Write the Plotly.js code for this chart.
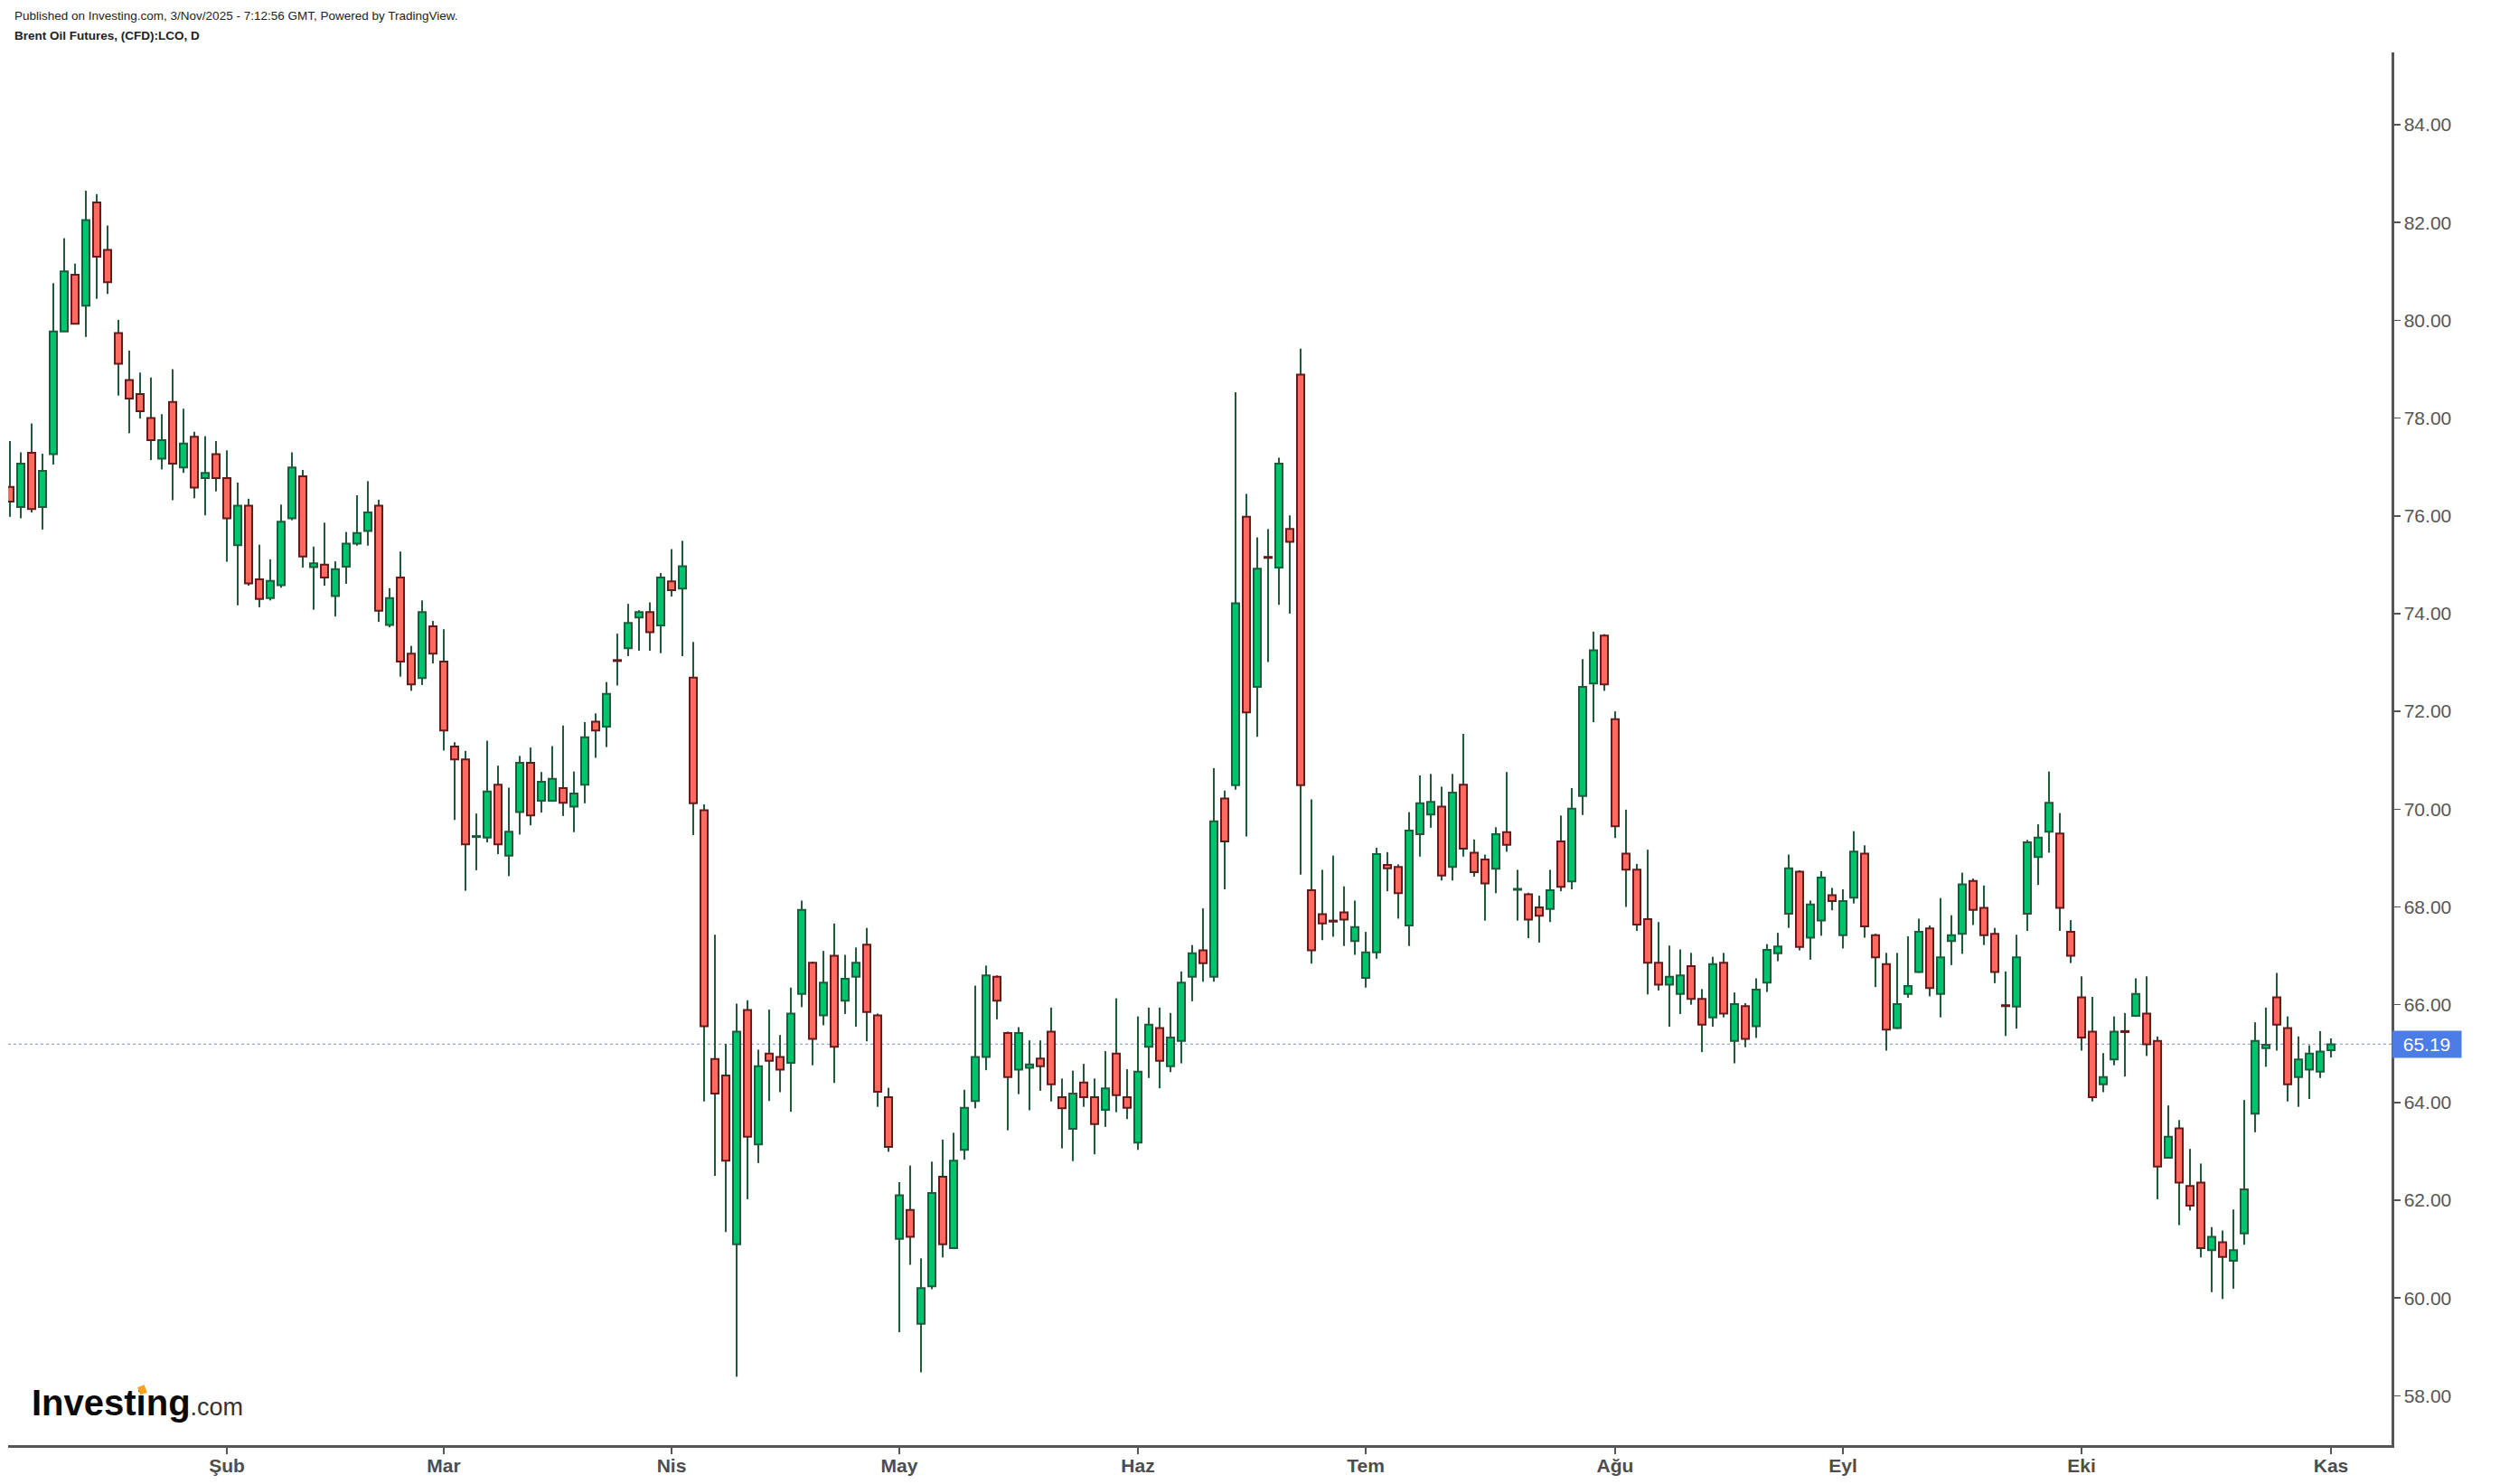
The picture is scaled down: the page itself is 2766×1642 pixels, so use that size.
<!DOCTYPE html>
<html><head><meta charset="utf-8">
<script src="https://cdn.plot.ly/plotly-3.0.1.min.js"></script>
<style>html,body{margin:0;padding:0;background:#fff}#chart{width:2766px;height:1642px}</style>
</head><body><div id="chart"></div>
<script>
// Trading days (Brent Oil Futures CFD, daily), Jan 6 2025 .. Nov 3 2025
const janDays=[6,7,8,9,10,13,14,15,16,17,20,21,22,23,24,27,28,29,30,31];
const febDays=[3,4,5,6,7,10,11,12,13,14,17,18,19,20,21,24,25,26,27,28];
const marDays=[3,4,5,6,7,10,11,12,13,14,17,18,19,20,21,24,25,26,27,28,31];
const aprDays=[1,2,3,4,7,8,9,10,11,14,15,16,17,21,22,23,24,25,28,29,30];
const mayDays=[1,2,5,6,7,8,9,12,13,14,15,16,19,20,21,22,23,26,27,28,29,30];
const junDays=[2,3,4,5,6,9,10,11,12,13,16,17,18,19,20,23,24,25,26,27,30];
const julDays=[1,2,3,4,7,8,9,10,11,14,15,16,17,18,21,22,23,24,25,28,29,30,31];
const augDays=[1,4,5,6,7,8,11,12,13,14,15,18,19,20,21,22,25,26,27,28,29];
const sepDays=[1,2,3,4,5,8,9,10,11,12,15,16,17,18,19,22,23,24,25,26,29,30];
const octDays=[1,2,3,6,7,8,9,10,13,14,15,16,17,20,21,22,23,24,27,28,29,30,31];
const novDays=[3];

const open=[76.59,76.18,77.29,76.18,77.26,79.77,80.93,80.30,82.41,81.44,
79.74,78.78,78.49,78.00,77.17,78.33,76.99,77.62,76.77,77.26,
76.77,75.40,76.21,74.70,74.32,74.58,75.95,76.81,74.95,75.00,
74.36,74.96,75.43,75.69,76.21,73.77,74.74,73.18,72.68,73.74,
73.02,71.28,71.02,69.43,69.42,70.50,69.05,69.94,70.95,70.17,
70.17,70.43,70.05,70.50,71.79,71.69,73.05,73.29,73.92,74.03,
73.76,74.66,74.51,72.69,69.98,64.89,64.55,61.10,65.89,63.14,
65.00,64.93,64.81,66.22,66.86,65.78,67.00,66.08,66.57,67.23,
65.78,64.11,61.21,61.80,59.47,60.24,62.48,61.02,63.03,64.03,
64.93,66.57,65.42,64.67,64.71,64.90,65.45,64.11,63.46,64.41,
64.11,63.85,65.00,64.11,63.18,65.14,65.52,64.74,65.26,66.57,
67.11,66.57,70.22,70.49,75.98,72.50,75.16,74.94,75.73,78.89,
68.34,67.85,67.72,67.89,67.30,66.55,67.07,68.86,68.82,67.62,
69.49,69.89,70.05,68.82,70.50,69.11,68.97,68.78,69.53,68.35,
68.26,67.99,67.96,69.34,68.52,70.27,72.57,73.55,71.84,69.09,
68.76,67.75,66.86,66.41,66.22,66.79,66.12,65.74,66.86,65.26,
65.97,65.56,66.45,67.05,67.86,68.72,67.37,67.72,68.24,67.42,
68.19,69.09,67.42,66.83,65.52,66.22,66.67,67.56,66.22,67.30,
67.45,68.53,67.98,67.45,65.99,65.96,67.86,69.02,69.54,69.50,
67.49,66.15,65.45,64.37,64.88,65.46,65.77,65.82,65.26,62.87,
63.47,62.29,62.36,60.98,61.14,60.76,61.32,63.77,65.11,66.15,
65.52,64.52,64.67,64.63,65.07];
const high=[77.53,77.30,77.89,77.27,80.76,81.68,81.16,82.65,82.58,81.94,
80.01,79.38,78.93,78.83,78.08,79.00,78.19,77.72,77.63,77.53,
77.34,76.68,76.35,75.41,75.11,76.23,77.30,76.94,75.37,75.86,
75.07,75.67,76.42,76.71,76.33,74.52,75.27,73.34,74.27,73.85,
73.68,71.37,71.19,69.91,71.40,70.89,70.44,71.09,71.26,70.76,
71.29,71.71,70.77,71.78,71.96,72.60,73.59,74.20,74.07,74.23,
74.83,75.32,75.49,73.42,70.10,67.43,65.20,66.02,66.09,65.08,
65.90,65.38,66.35,68.13,66.88,67.10,67.66,67.02,67.17,67.57,
65.82,64.30,62.37,62.71,60.81,62.79,63.24,63.38,64.26,66.39,
66.80,66.60,65.45,65.54,65.27,65.27,65.94,64.49,64.65,64.79,
64.49,65.05,66.13,64.68,65.76,65.94,65.94,65.83,66.68,67.22,
67.97,70.84,70.38,78.53,76.45,75.56,75.73,77.19,76.01,79.42,
70.20,68.76,69.05,68.42,68.13,67.49,69.21,69.12,68.87,69.94,
70.69,70.72,70.46,70.72,71.54,69.38,69.07,69.63,70.76,68.76,
68.29,68.23,68.76,69.87,70.43,73.07,73.63,73.58,72.00,69.99,
68.88,69.17,67.69,67.21,67.13,67.06,66.32,66.98,67.06,66.25,
66.03,66.54,67.24,67.47,69.07,68.75,68.13,68.73,68.39,68.36,
69.55,69.26,67.45,67.06,67.06,67.40,67.76,67.62,68.18,67.83,
68.70,68.58,68.44,67.57,66.68,67.43,69.37,69.69,70.77,69.92,
67.73,66.58,66.16,65.01,65.76,65.83,66.54,66.58,65.35,63.94,
63.64,63.05,62.75,61.45,61.38,61.81,64.05,65.64,65.94,66.65,
65.76,65.35,65.17,65.46,65.31];
const low=[75.98,75.95,76.07,75.72,77.05,79.77,79.93,79.66,80.44,80.54,
78.46,77.69,77.99,77.14,76.95,76.32,76.88,76.36,76.01,76.50,
75.06,74.17,74.57,74.13,74.27,74.53,75.91,74.94,74.08,74.57,
73.94,74.61,75.39,75.39,73.83,73.72,72.71,72.42,72.54,72.98,
71.20,69.78,68.33,68.75,69.32,69.08,68.63,69.48,69.67,69.93,
70.17,69.86,69.53,70.12,71.05,71.27,72.53,73.13,73.24,73.24,
73.19,74.35,73.13,69.47,64.02,62.50,61.35,58.39,62.02,62.76,
64.03,64.21,63.81,65.95,64.76,65.58,64.40,65.81,65.55,65.25,
63.91,62.99,59.30,60.68,58.48,60.18,60.83,61.00,62.83,63.88,
64.66,65.70,63.43,64.17,63.84,64.24,64.02,63.06,62.80,63.91,
62.94,63.50,63.80,63.66,63.03,64.50,64.29,64.62,64.80,66.07,
66.47,66.47,68.36,70.40,69.44,71.48,73.01,74.18,74.00,68.66,
66.84,67.32,67.39,67.20,67.02,66.35,66.94,68.32,67.76,67.20,
69.03,69.62,68.54,68.54,69.03,68.62,67.72,68.28,69.13,67.72,
67.36,67.27,67.69,68.32,68.36,69.88,71.78,72.42,69.41,68.00,
67.51,66.21,66.29,65.55,65.81,66.00,65.03,65.55,65.74,64.80,
65.13,65.32,66.26,66.89,67.57,67.11,66.92,67.41,67.93,67.15,
68.07,67.37,66.36,65.06,65.50,66.14,66.65,66.17,65.74,66.81,
67.04,67.63,67.22,66.44,65.36,65.51,67.51,68.45,69.11,67.51,
66.85,65.06,64.02,64.21,64.76,64.53,65.75,64.95,62.02,62.85,
61.49,61.79,60.83,60.12,59.98,60.19,61.09,63.39,64.73,65.06,
64.02,63.91,64.07,64.50,64.92];
const close=[76.29,77.07,76.14,76.92,79.77,81.00,79.93,82.05,81.30,80.78,
79.11,78.40,78.14,77.55,77.55,77.07,77.48,76.58,76.88,76.77,
75.95,76.21,74.62,74.30,74.67,75.88,76.99,75.17,75.03,74.74,
74.91,75.43,75.65,76.07,74.06,74.32,73.02,72.55,74.03,73.18,
71.61,71.02,69.28,69.45,70.36,69.28,69.54,70.95,69.87,70.56,
70.62,70.13,70.32,71.47,71.61,72.36,73.03,73.81,74.03,73.62,
74.74,74.48,74.97,70.12,65.56,64.18,62.81,65.45,63.30,64.74,
64.85,64.67,65.82,67.94,65.30,66.45,65.14,66.53,66.86,65.85,
64.22,63.09,62.10,61.25,60.20,62.15,61.10,62.81,63.89,64.93,
66.60,66.08,64.52,65.42,64.78,64.74,64.37,63.88,64.18,64.11,
63.56,64.29,64.15,63.89,64.63,65.59,64.85,65.33,66.45,67.05,
66.85,69.75,69.34,74.21,71.98,74.92,75.14,77.07,75.47,70.49,
67.11,67.66,67.70,67.74,67.59,67.07,69.08,68.79,68.28,69.56,
70.12,70.15,68.64,70.34,69.19,68.71,68.48,69.49,69.27,68.37,
67.74,67.82,68.34,68.41,70.01,72.50,73.25,72.55,69.65,68.76,
67.64,66.86,66.41,66.57,66.60,66.12,65.59,66.83,65.82,66.01,
65.30,66.31,67.12,67.19,68.79,67.18,68.05,68.60,68.12,68.12,
69.13,67.60,66.97,65.49,66.01,66.38,67.49,66.34,66.97,67.42,
68.46,67.94,67.42,66.67,65.97,66.97,69.32,69.42,70.13,67.98,
67.00,65.33,64.11,64.52,65.45,65.44,66.22,65.19,62.69,63.30,
62.36,61.89,61.02,61.25,60.84,60.98,62.22,65.26,65.18,65.59,
64.37,64.88,65.00,65.04,65.19];

const tickDates=['2025-02-03','2025-03-03','2025-04-01','2025-05-01','2025-06-02','2025-07-01','2025-08-01','2025-09-01','2025-10-01','2025-11-03'];
const tickLabels=['Şub','Mar','Nis','May','Haz','Tem','Ağu','Eyl','Eki','Kas'];
const priceTicks=[58,60,62,64,66,68,70,72,74,76,78,80,82,84];

// build category list from the day lists
const monthLists=[janDays,febDays,marDays,aprDays,mayDays,junDays,julDays,augDays,sepDays,octDays,novDays];
const dates=[];
monthLists.forEach((days,m)=>{days.forEach(d=>{dates.push('2025-'+String(m+1).padStart(2,'0')+'-'+String(d).padStart(2,'0'));});});

const UP_FILL='#00c46e', UP_LINE='#1f5c3d', DN_FILL='#ff6b61', DN_LINE='#651b1b', WICK='#1f5c3d';
const isUp=close.map((c,i)=>c>=open[i]);
const bodyBase=open.map((o,i)=>Math.min(o,close[i]));
const bodyLen=open.map((o,i)=>Math.abs(close[i]-o));
const wickLen=high.map((h,i)=>h-low[i]);

const wicks={type:'bar',x:dates,base:low,y:wickLen,width:0.17,
  marker:{color:WICK,line:{width:0}},hoverinfo:'skip'};
const bodies={type:'bar',x:dates,base:bodyBase,y:bodyLen,width:0.67,
  marker:{color:isUp.map(u=>u?UP_FILL:DN_FILL),line:{color:isUp.map(u=>u?UP_LINE:DN_LINE),width:2}},
  hoverinfo:'skip'};

const lastPrice=close[close.length-1];
const FONT='Liberation Sans, Arial, sans-serif';
// plot area: left 9, right 2646, top 58, bottom 1599
const PL=9, PW=2637, PT=58, PH=1541;
const px=x=>(x-PL)/PW, py=y=>(PT+PH-y)/PH;

const layout={
  width:2766,height:1642,
  margin:{l:PL,r:2766-PL-PW,t:PT,b:1642-PT-PH,pad:0},
  paper_bgcolor:'#ffffff',plot_bgcolor:'#ffffff',
  showlegend:false,barmode:'overlay',
  font:{family:FONT,color:'#555555'},
  xaxis:{type:'category',range:[-0.167,219.58],tickmode:'array',tickvals:tickDates,ticktext:tickLabels,
    ticks:'outside',ticklen:7,tickwidth:1.5,tickcolor:'#555555',showline:true,linecolor:'#555555',linewidth:2.5,
    showgrid:false,zeroline:false,fixedrange:true,ticklabelstandoff:-5,
    tickfont:{family:FONT,size:21,color:'#4d4d4d',weight:'bold'}},
  yaxis:{side:'right',range:[56.99,85.48],tickmode:'array',tickvals:priceTicks,ticktext:priceTicks.map(v=>v.toFixed(2)),
    ticks:'outside',ticklen:7,tickwidth:1.5,tickcolor:'#555555',showline:true,linecolor:'#555555',linewidth:2.5,
    showgrid:false,zeroline:false,fixedrange:true,
    tickfont:{family:FONT,size:21,color:'#555555'}},
  shapes:[{type:'line',xref:'paper',x0:0,x1:1,yref:'y',y0:lastPrice,y1:lastPrice,layer:'below',
    line:{color:'#8ea8f2',width:1.2,dash:'dot'}}],
  annotations:[
    {xref:'paper',yref:'y',x:1,y:lastPrice,xanchor:'left',yanchor:'middle',showarrow:false,
     text:lastPrice.toFixed(2),bgcolor:'#4c7ce5',width:74,height:27,borderpad:1,
     font:{family:FONT,size:21,color:'#ffffff'}},
    {xref:'paper',yref:'paper',x:px(14),y:py(17),xanchor:'left',yanchor:'middle',showarrow:false,
     text:'Published on Investing.com, 3/Nov/2025 - 7:12:56 GMT, Powered by TradingView.',
     font:{family:FONT,size:13.5,color:'#222222'}},
    {xref:'paper',yref:'paper',x:px(14),y:py(40),xanchor:'left',yanchor:'middle',showarrow:false,
     text:'<b>Brent Oil Futures, (CFD):LCO, D</b>',
     font:{family:FONT,size:13.5,color:'#222222'}},
    {xref:'paper',yref:'paper',x:px(33),y:py(1552),xanchor:'left',yanchor:'middle',showarrow:false,
     text:'<b>Investing</b><span style="font-size:27px;color:#333333">.com</span>',
     font:{family:FONT,size:40,color:'#0a0a0a'}},
    {xref:'paper',yref:'paper',x:px(157),y:py(1538),xanchor:'center',yanchor:'middle',showarrow:false,
     text:'&nbsp;',width:7,height:8,borderpad:0,bgcolor:'#f7a31c',textangle:-20,
     font:{family:FONT,size:6,color:'#f7a31c'}}
  ]
};
Plotly.newPlot('chart',[wicks,bodies],layout,{staticPlot:true,displayModeBar:false});
</script></body></html>
